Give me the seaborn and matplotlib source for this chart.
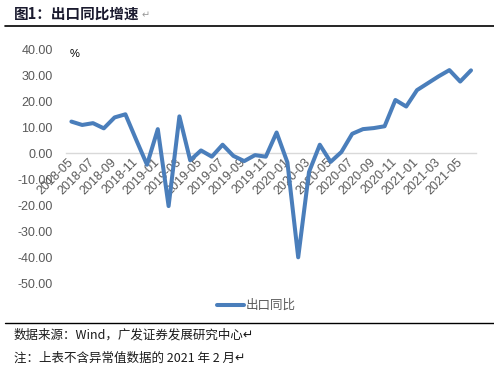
import numpy as np
import pandas as pd
import matplotlib
matplotlib.use("Agg")
import matplotlib.pyplot as plt
import seaborn as sns

months = ["2018-05", "2018-06", "2018-07", "2018-08", "2018-09", "2018-10", "2018-11", "2018-12",
          "2019-01", "2019-02", "2019-03", "2019-04", "2019-05", "2019-06", "2019-07", "2019-08",
          "2019-09", "2019-10", "2019-11", "2019-12", "2020-01", "2020-02", "2020-03", "2020-04",
          "2020-05", "2020-06", "2020-07", "2020-08", "2020-09", "2020-10", "2020-11", "2020-12",
          "2021-01", "2021-02", "2021-03", "2021-04", "2021-05", "2021-06"]
export_yoy = [12.2, 10.9, 11.6, 9.6, 13.8, 15.0, 5.2, -4.4, 9.3, -20.3, 14.2, -2.7, 1.1, -1.3,
              3.3, -1.0, -3.0, -0.7, -1.3, 8.0, -3.5, -40.0, -7.2, 3.3, -3.3, 0.5, 7.5, 9.3,
              9.7, 10.4, 20.5, 18.0, 24.3, np.nan, 29.6, 32.0, 27.6, 31.9]
y_ticks = [40, 30, 20, 10, 0, -10, -20, -30, -40, -50]

sns.set_theme(style="white")
plt.rcParams['font.family'] = ['Liberation Sans', 'Noto Sans CJK SC', 'DejaVu Sans']
CJK = ['Noto Sans CJK SC', 'DejaVu Sans']

df = pd.DataFrame({"x": np.arange(len(months)), "v": export_yoy, "s": "出口同比"})
df = df.dropna()

fig = plt.figure(figsize=(4.94, 3.66), dpi=100)
ax = fig.add_axes([66/494, 1-283.3/366, 410.4/494, (283.3-49.3)/366])

sns.lineplot(data=df, x="x", y="v", ax=ax, color="#4a7ebb", linewidth=2.9,
             legend=False, solid_joinstyle="round", solid_capstyle="round")

ax.set_xlim(-0.5, len(months) - 0.5)
ax.set_ylim(-50, 40)
ax.set_xlabel("")
ax.set_ylabel("")

for s in ["top", "right", "left"]:
    ax.spines[s].set_visible(False)
ax.spines["bottom"].set_position(("data", 0))
ax.spines["bottom"].set_color("#d9d9d9")
ax.spines["bottom"].set_linewidth(1.0)
ax.spines["bottom"].set_zorder(0)

ax.set_yticks(y_ticks)
ax.set_yticklabels([f"{t:.2f}" for t in y_ticks])
ax.tick_params(axis="y", length=0, pad=9.5, labelsize=9, labelcolor="#595959")

pos = np.arange(len(months))
ax.set_xticks(pos[::2])
ax.set_xticklabels(months[::2], rotation=45, ha="right", va="center", rotation_mode="anchor")
ax.set_xticks(np.arange(-0.5, len(months), 2), minor=True)
ax.tick_params(axis="x", which="major", length=0, pad=5, labelsize=9, labelcolor="#595959")
ax.tick_params(axis="x", which="minor", length=4, direction="in", color="#d9d9d9", width=1)
ax.grid(False)

ax.text(70/494, 1-54/366, "%", transform=fig.transFigure, fontsize=8, color="black",
        va="center", ha="left")

# title and rules
fig.text(14/494, 1-14/366, "图1：出口同比增速", fontsize=10.5, fontweight="bold",
         color="#1a1a2e", family=CJK, va="center", ha="left")
fig.text(142/494, 1-15/366, "↵", fontsize=7, color="#999999", family=CJK, va="center", ha="left")
fig.add_artist(plt.Line2D([5/494, 1], [1-26/366, 1-26/366], color="black", lw=1.2))
fig.add_artist(plt.Line2D([5/494, 1], [1-323/366, 1-323/366], color="black", lw=1.0))

# legend
fig.add_artist(plt.Line2D([217/494, 244/494], [1-305/366, 1-305/366], color="#4a7ebb", lw=2.9))
fig.text(246/494, 1-305/366, "出口同比", fontsize=9, color="#595959", family=CJK,
         va="center", ha="left")

# footer
fig.text(14/494, 1-335/366, "数据来源：Wind，广发证券发展研究中心↵", fontsize=9, color="#1a1a1a",
         family=CJK, va="center", ha="left")
fig.text(14/494, 1-358/366, "注：上表不含异常值数据的 2021 年 2 月↵", fontsize=9, color="#1a1a1a",
         family=CJK, va="center", ha="left")

fig.savefig("out.png", dpi=100)
